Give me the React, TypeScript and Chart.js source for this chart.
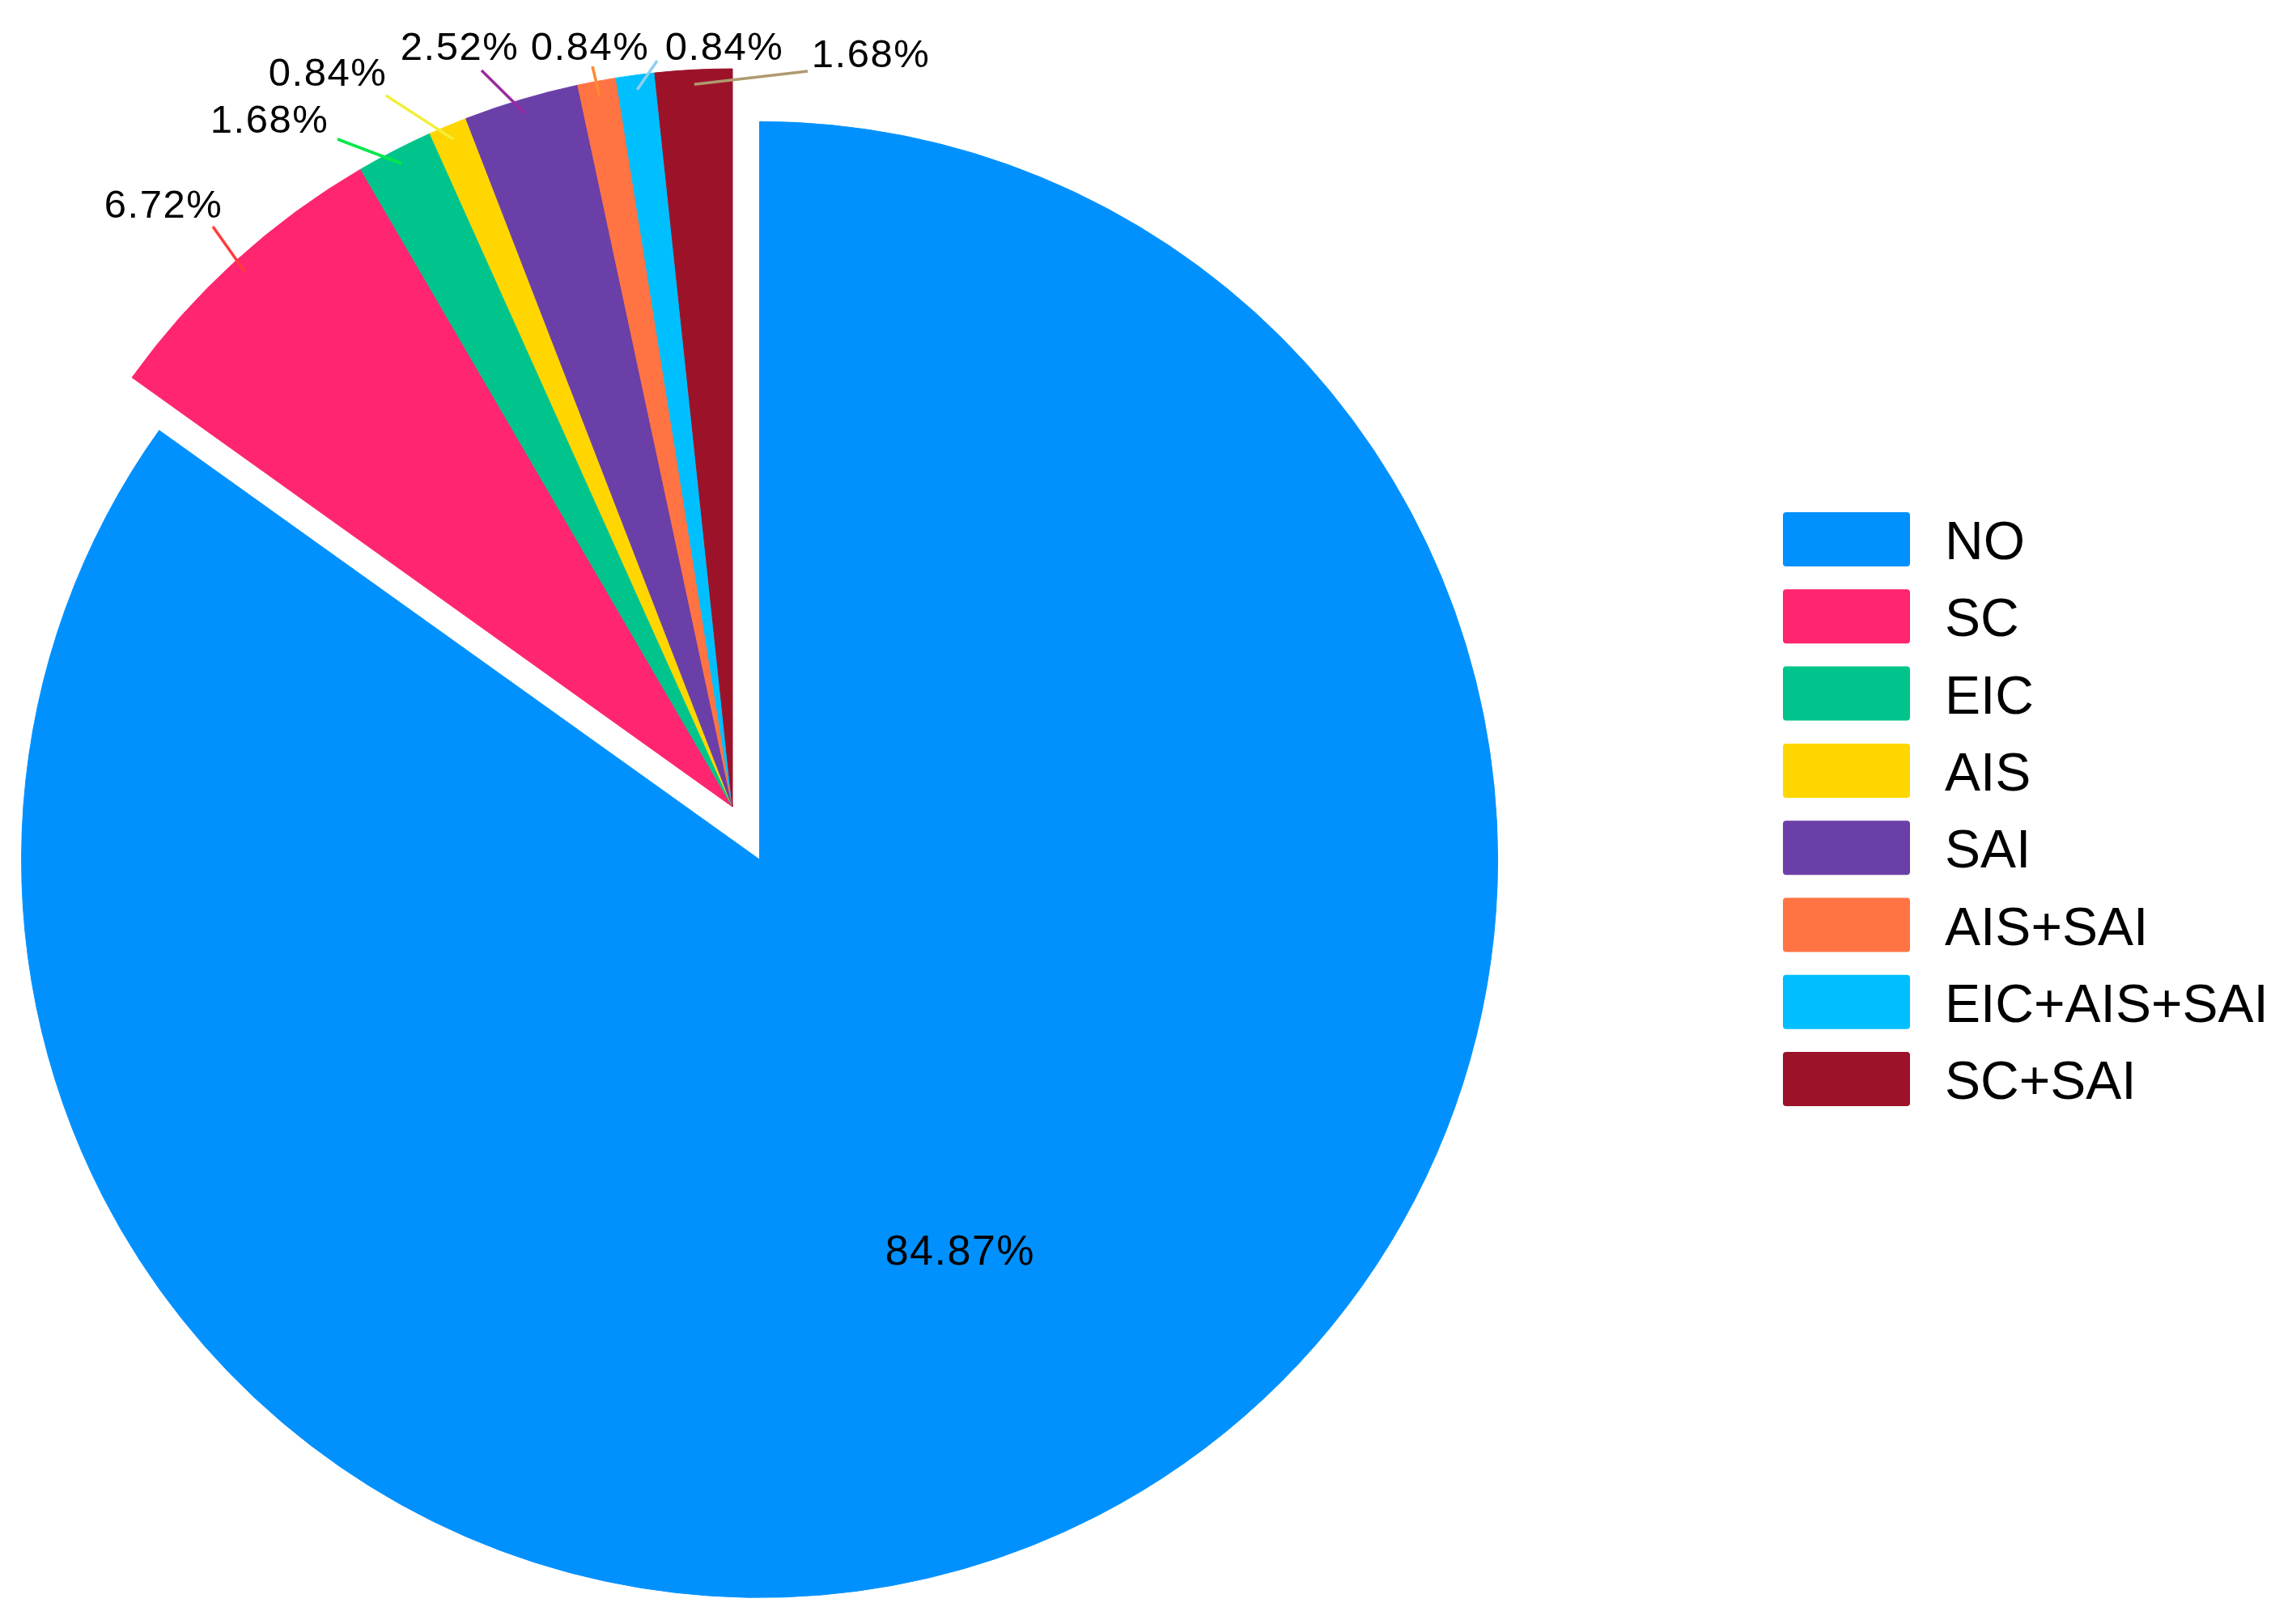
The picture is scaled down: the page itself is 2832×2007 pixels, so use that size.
import React, { useEffect, useRef } from "react";
import { Chart, registerables } from "chart.js";

Chart.register(...registerables);

// ---- data ----
const categories = ["NO", "SC", "EIC", "AIS", "SAI", "AIS+SAI", "EIC+AIS+SAI", "SC+SAI"];
const percentages = [84.87, 6.72, 1.68, 0.84, 2.52, 0.84, 0.84, 1.68];
const sliceColors = ["#0091FF", "#FF2571", "#00C48C", "#FFD600", "#6B3FA8", "#FF7442", "#00BFFF", "#9C1228"];
const leaderColors = ["", "#FF3B3B", "#00E84A", "#F2EE3A", "#9A2AA0", "#FF8A30", "#8ED0F0", "#B09A70"];

// ---- layout (offsets from pie centre, px) ----
const leaderEnds: (number[] | null)[] = [null, [-642, -717], [-488, -825], [-428, -879], [-310, -910], [-173, -915], [-93, -922], [93, -909]];
const labelCenters: (number[] | null)[] = [null, [-703, -746], [-572, -851], [-500, -909], [-337, -941], [-176, -941], [-10, -941], [171, -932]];

const W = 2832;
const H = 2007;
const CX = 905;
const CY = 997;
const R = 912;
const SHIFT = 73.4;
const FONT = '"Liberation Sans", Arial, Helvetica, sans-serif';

const decor = {
  id: "decor",
  afterUpdate(chart: any) {
    const meta = chart.getDatasetMeta(0);
    const arc: any = meta.data[0];
    if (arc && !arc.__shifted) {
      const orig = arc.draw.bind(arc);
      arc.draw = (ctx: CanvasRenderingContext2D, area: any) => {
        const a = (arc.startAngle + arc.endAngle) / 2;
        ctx.save();
        ctx.translate(Math.cos(a) * SHIFT, Math.sin(a) * SHIFT);
        orig(ctx, area);
        ctx.restore();
      };
      arc.__shifted = true;
    }
  },
  afterDraw(chart: any) {
    const ctx: CanvasRenderingContext2D = chart.ctx;
    const meta = chart.getDatasetMeta(0);
    ctx.save();
    meta.data.forEach((arc: any, i: number) => {
      const mid = (arc.startAngle + arc.endAngle) / 2;
      const txt = percentages[i].toFixed(2) + "%";
      if (i === 0) {
        const bx = arc.x + Math.cos(mid) * SHIFT;
        const by = arc.y + Math.sin(mid) * SHIFT;
        const d = arc.outerRadius * 0.594;
        const tx = bx + Math.cos(mid) * d;
        const ty = by + Math.sin(mid) * d;
        ctx.font = `52px ${FONT}`;
        (ctx as any).letterSpacing = "1.5px";
        ctx.fillStyle = "#000";
        ctx.textAlign = "center";
        ctx.textBaseline = "alphabetic";
        ctx.fillText(txt, tx, ty + 0.358 * 52);
        return;
      }
      const end = leaderEnds[i]!;
      const lc = labelCenters[i]!;
      const r0 = arc.outerRadius - 18;
      const sx = arc.x + Math.cos(mid) * r0;
      const sy = arc.y + Math.sin(mid) * r0;
      ctx.beginPath();
      ctx.moveTo(sx, sy);
      ctx.lineTo(arc.x + end[0], arc.y + end[1]);
      ctx.strokeStyle = leaderColors[i];
      ctx.lineWidth = 3.5;
      ctx.stroke();
      ctx.font = `49px ${FONT}`;
      (ctx as any).letterSpacing = "1.5px";
      ctx.fillStyle = "#000";
      ctx.textAlign = "center";
      ctx.textBaseline = "alphabetic";
      ctx.fillText(txt, arc.x + lc[0], arc.y + lc[1] + 0.358 * 49);
    });
    (ctx as any).letterSpacing = "0px";
    const boxX = 2203, boxW = 157, boxH = 67, top0 = 633, step = 95.3, textX = 2403;
    categories.forEach((c, i) => {
      const y = top0 + i * step;
      ctx.fillStyle = sliceColors[i];
      ctx.beginPath();
      (ctx as any).roundRect(boxX, y, boxW, boxH, 4);
      ctx.fill();
      ctx.font = `66px ${FONT}`;
      ctx.fillStyle = "#000";
      ctx.textAlign = "left";
      ctx.textBaseline = "alphabetic";
      ctx.fillText(c, textX, y + boxH / 2 + 1 + 0.358 * 66);
    });
    ctx.restore();
  },
};

export default function App() {
  const ref = useRef<HTMLCanvasElement | null>(null);
  useEffect(() => {
    document.body.style.margin = "0";
    const canvas = ref.current!;
    const chart = new Chart(canvas, {
      type: "pie",
      data: {
        labels: categories,
        datasets: [
          {
            data: percentages,
            backgroundColor: sliceColors,
            borderColor: sliceColors,
            borderWidth: 1,
            radius: R,
            clip: false,
          } as any,
        ],
      },
      options: {
        responsive: false,
        animation: false,
        devicePixelRatio: 1,
        events: [],
        layout: {
          padding: { left: 0, top: 0, right: W - 2 * CX, bottom: H - 2 * CY },
        },
        plugins: {
          legend: { display: false },
          tooltip: { enabled: false },
          title: { display: false },
        },
      },
      plugins: [decor],
    });
    return () => chart.destroy();
  }, []);
  return (
    <div style={{ position: "absolute", left: 0, top: 0, width: W, height: H, background: "#fff" }}>
      <canvas ref={ref} width={W} height={H} style={{ width: W, height: H, display: "block" }} />
    </div>
  );
}
